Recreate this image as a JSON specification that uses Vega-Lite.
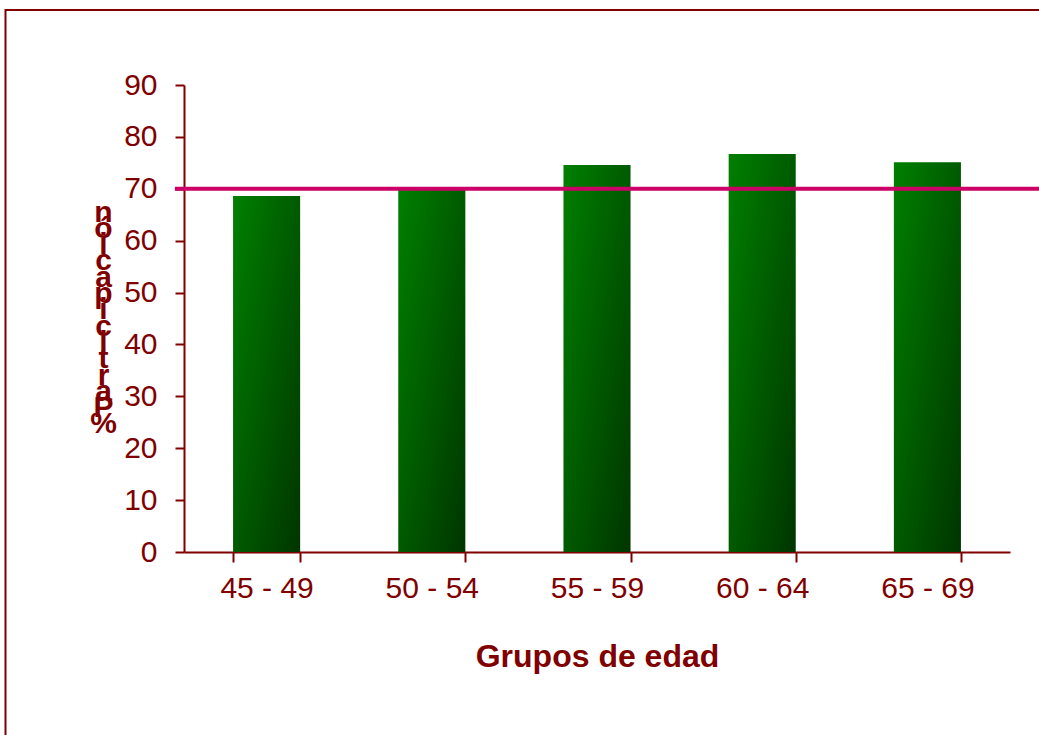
{
  "$schema": "https://vega.github.io/schema/vega-lite/v6.json",
  "autosize": "none",
  "width": 826,
  "height": 467,
  "padding": {"left": 184, "top": 85, "right": 29, "bottom": 183},
  "background": "white",
  "config": {
    "view": {"stroke": null},
    "font": "Liberation Sans",
    "axis": {
      "domainColor": "#800000",
      "domainWidth": 2,
      "tickColor": "#800000",
      "tickWidth": 2,
      "labelColor": "#800000",
      "labelFont": "Liberation Sans",
      "labelFontSize": 30,
      "titleColor": "#800000",
      "titleFont": "Liberation Sans",
      "grid": false
    }
  },
  "data": {
    "values": [
      {"grupo": "45 - 49", "pct": 68.6},
      {"grupo": "50 - 54", "pct": 70.3},
      {"grupo": "55 - 59", "pct": 74.6},
      {"grupo": "60 - 64", "pct": 76.7},
      {"grupo": "65 - 69", "pct": 75.1}
    ]
  },
  "resolve": {"scale": {"x": "independent"}, "axis": {"x": "independent"}},
  "layer": [
    {
      "mark": {
        "type": "bar",
        "fill": {
          "gradient": "linear",
          "x1": 0, "y1": 0, "x2": 1, "y2": 1,
          "stops": [
            {"offset": 0, "color": "#008000"},
            {"offset": 1, "color": "#003500"}
          ]
        }
      },
      "encoding": {
        "x": {
          "field": "grupo",
          "type": "nominal",
          "sort": null,
          "scale": {"paddingInner": 0.594, "paddingOuter": 0.297},
          "axis": {
            "labelAngle": 0,
            "tickBand": "extent",
            "tickSize": 10,
            "labelPadding": 11,
            "title": "Grupos de edad",
            "titleFontSize": 32,
            "titleFontWeight": "bold",
            "titlePadding": 38
          }
        },
        "y": {
          "field": "pct",
          "type": "quantitative",
          "scale": {"domain": [0, 90], "nice": false},
          "axis": {
            "values": [0, 10, 20, 30, 40, 50, 60, 70, 80, 90],
            "tickSize": 9,
            "labelPadding": 18,
            "title": ["n", "ó", "i", "c", "a", "p", "i", "c", "i", "t", "r", "a", "P", " ", "%"],
            "titleAngle": 0,
            "titleAlign": "center",
            "titleBaseline": "middle",
            "titleX": -81,
            "titleY": 127,
            "titleFontSize": 30,
            "titleFontWeight": "bold",
            "titleLineHeight": 16.3
          }
        }
      }
    },
    {
      "data": {"values": [{"meta": 70}]},
      "mark": {"type": "rule", "color": "#CC0066", "strokeWidth": 4, "clip": false},
      "encoding": {
        "x": {"datum": -0.011, "type": "quantitative", "scale": {"domain": [0, 1]}, "axis": null},
        "x2": {"datum": 1.05},
        "y": {"field": "meta", "type": "quantitative"}
      }
    },
    {
      "data": {"values": [{"borde": 1}]},
      "mark": {"type": "rect", "fill": null, "fillOpacity": 0, "stroke": "#800000", "strokeWidth": 2, "clip": false},
      "encoding": {
        "x": {"datum": -0.2161, "type": "quantitative", "scale": {"domain": [0, 1]}, "axis": null},
        "x2": {"datum": 1.06},
        "y": {"datum": 104.45, "type": "quantitative"},
        "y2": {"datum": -40}
      }
    }
  ]
}
